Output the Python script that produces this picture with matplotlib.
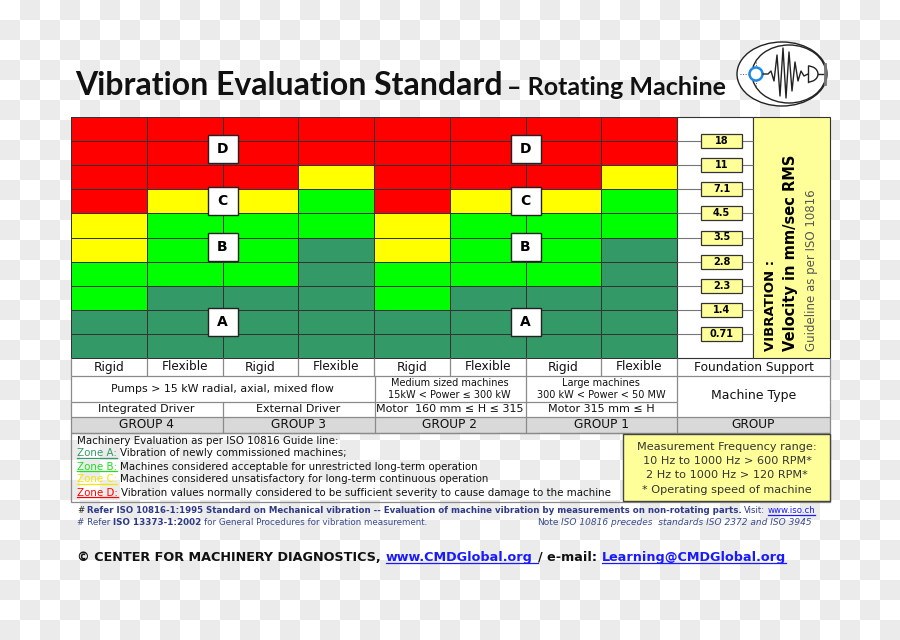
import numpy as np
import matplotlib.pyplot as plt
from matplotlib.colors import ListedColormap
from matplotlib.patches import Rectangle, Ellipse, Circle, Arc

# -----------------------------
# Dados da tabela
# -----------------------------
foundation = ['Rigid', 'Flexible'] * 4
groups = ['GROUP 4', 'GROUP 3', 'GROUP 2', 'GROUP 1']
drivers = ['Integrated Driver', 'External Driver',
           'Motor  160 mm ≤ H ≤ 315', 'Motor 315 mm ≤ H']
machine_types = ['Pumps > 15 kW radial, axial, mixed flow',
                 'Medium sized machines\n15kW < Power ≤ 300 kW',
                 'Large machines\n300 kW < Power < 50 MW']
velocity_limits = [18, 11, 7.1, 4.5, 3.5, 2.8, 2.3, 1.4, 0.71]
# limites de zona (mm/s RMS) por coluna
limit_ab = [1.4, 2.3, 2.3, 3.5, 1.4, 2.3, 2.3, 3.5]
limit_bc = [2.8, 4.5, 4.5, 7.1, 2.8, 4.5, 4.5, 7.1]
limit_cd = [4.5, 7.1, 7.1, 11, 4.5, 7.1, 7.1, 11]
zones = ['A', 'B', 'C', 'D']
zone_colors = ['#339966', '#00ff00', '#ffff00', '#ff0000']
zone_text = ['Vibration of newly commissioned machines;',
             'Machines considered acceptable for unrestricted long-term operation',
             'Machines considered unsatisfactory for long-term continuous operation',
             'Vibration values normally considered to be sufficient severity to cause damage to the machine']
zone_label_colors = ['#339966', '#22dd22', '#f5e600', '#ff0000']

BODY = 'DejaVu Sans'
plt.rcParams['font.family'] = [BODY]

fig = plt.figure(figsize=(9, 6.4), dpi=100)
ax = fig.add_axes([0, 0, 1, 1])
ax.set_xlim(0, 900)
ax.set_ylim(640, 0)
ax.axis('off')

# fundo quadriculado
chk = np.indices((32, 45)).sum(axis=0) % 2
ax.imshow(chk, cmap=ListedColormap(['white', '#ebebeb']), extent=(0, 900, 640, 0),
          interpolation='nearest', zorder=0, aspect='auto')

# -----------------------------
# Grade de zonas
# -----------------------------
col_x = np.linspace(71, 677, 9)
row_y = np.linspace(117, 358, 11)
band_low = velocity_limits + [0]
Z = np.array([[sum(b >= lim[c] for lim in (limit_ab, limit_bc, limit_cd))
               for c in range(8)] for b in band_low])
ax.pcolormesh(col_x, row_y, Z, cmap=ListedColormap(zone_colors), vmin=-0.5, vmax=3.5,
              edgecolors='#333333', linewidth=0.6, zorder=2)

# rótulos das zonas
label_pos = {'D': (1, -4), 'C': (3, 0), 'B': (5, -3), 'A': (8, 0)}
for cx in (col_x[2], col_x[6]):
    for z, (r, dy) in label_pos.items():
        yc = (row_y[r] + row_y[r + 1]) / 2 + dy
        ax.add_patch(Rectangle((cx - 15, yc - 14), 30, 28, fc='white', ec='#222222',
                               lw=1, zorder=4))
        ax.text(cx, yc, z, ha='center', va='center', fontsize=10, fontweight='bold',
                zorder=5)

# coluna de valores
ax.add_patch(Rectangle((677, 117), 76, 241, fc='white', ec='#333333', lw=0.8, zorder=2))
ax.add_patch(Rectangle((753, 117), 77, 241, fc='#ffff99', ec='#333333', lw=0.8, zorder=2))
ax.hlines(row_y[1:10], 677, 753, color='#777777', lw=0.8, zorder=3)
for v, y in zip(velocity_limits, row_y[1:10]):
    ax.add_patch(Rectangle((701, y - 7), 41, 14, fc='#ffff99', ec='#333333', lw=0.9,
                           zorder=4))
    ax.text(721.5, y, str(v), ha='center', va='center', fontsize=7, fontweight='bold',
            zorder=5)

ax.text(770, 351, 'VIBRATION :', rotation=90, ha='center', va='bottom', fontsize=9.5,
        fontweight='bold', zorder=5)
ax.text(791, 351, 'Velocity in mm/sec RMS', rotation=90, ha='center', va='bottom',
        fontsize=10.5, fontweight='bold', zorder=5)
ax.text(811, 351, 'Guideline as per ISO 10816', rotation=90, ha='center', va='bottom',
        fontsize=8.5, color='#555555', zorder=5)

# -----------------------------
# Linhas inferiores da tabela
# -----------------------------
ax.add_patch(Rectangle((71, 358), 759, 59, fc='white', ec='none', zorder=1))
for i in range(4):
    ax.add_patch(Rectangle((col_x[2 * i], 417), col_x[2] - col_x[0], 16,
                           fc='#d9d9d9', ec='none', zorder=1))
ax.add_patch(Rectangle((677, 417), 153, 16, fc='#d9d9d9', ec='none', zorder=1))

lc = '#8a8a8a'
ax.hlines([376, 417, 433], 71, 830, color=lc, lw=0.9, zorder=3)
ax.hlines(402, 71, 677, color=lc, lw=0.9, zorder=3)
ax.vlines(list(col_x) + [830], 358, 376, color=lc, lw=0.9, zorder=3)
ax.vlines([71, 375, 526, 677, 830], 376, 402, color=lc, lw=0.9, zorder=3)
ax.vlines([71, 223, 375, 526, 677, 830], 402, 433, color=lc, lw=0.9, zorder=3)

for i, f in enumerate(foundation):
    ax.text((col_x[i] + col_x[i + 1]) / 2, 367, f, ha='center', va='center',
            fontsize=8.7, color='#111111', zorder=5)
ax.text(753.5, 367, 'Foundation Support', ha='center', va='center', fontsize=8.7,
        color='#111111', zorder=5)

spans = [(0, 4), (4, 6), (6, 8)]
for (a, b), m in zip(spans, machine_types):
    ax.text((col_x[a] + col_x[b]) / 2, 389, m, ha='center', va='center',
            fontsize=7.9 if a == 0 else 7.0, color='#111111', linespacing=1.15, zorder=5)
ax.text(753.5, 396, 'Machine Type', ha='center', va='center', fontsize=9,
        color='#111111', zorder=5)

for i, d in enumerate(drivers):
    ax.text((col_x[2 * i] + col_x[2 * i + 2]) / 2, 409.5, d, ha='center', va='center',
            fontsize=8, color='#111111', zorder=5)
for i, g in enumerate(groups):
    ax.text((col_x[2 * i] + col_x[2 * i + 2]) / 2, 425, g, ha='center', va='center',
            fontsize=8.7, color='#111111', zorder=5)
ax.text(753.5, 425, 'GROUP', ha='center', va='center', fontsize=8.7,
        color='#111111', zorder=5)

# -----------------------------
# Texto em partes (cores / sublinhado)
# -----------------------------
renderer = fig.canvas.get_renderer()


def runs(x, y, parts, size, gap=3.0):
    for s, kw in parts:
        kw = dict(kw)
        ul = kw.pop('underline', 0)
        t = ax.text(x, y, s, fontsize=size, va='baseline', ha='left', zorder=6, **kw)
        w = t.get_window_extent(renderer=renderer).width
        if ul:
            ext = gap if ul == 2 else 0
            ax.plot([x, x + w + ext], [y + 1.8, y + 1.8], color=kw.get('color', 'k'),
                    lw=0.9, zorder=6)
        x += w + gap
    return x


# legenda
ax.add_patch(Rectangle((71, 433), 759, 69, fc='none', ec='#8a8a8a', lw=0.9, zorder=3))
runs(77, 443.5, [('Machinery Evaluation as per ISO 10816 Guide line:',
                  {'color': '#111111'})], 7.4)
for i, z in enumerate(zones):
    runs(77, 456.5 + 13 * i,
         [('Zone %s:' % z, {'color': zone_label_colors[i], 'underline': 1}),
          (zone_text[i], {'color': '#111111'})], 7.4)

# caixa de frequência
ax.add_patch(Rectangle((623, 434), 207, 67, fc='#ffff99', ec='#444444', lw=1, zorder=4))
freq_lines = ['Measurement Frequency range:', '10 Hz to 1000 Hz > 600 RPM*',
              '2 Hz to 1000 Hz > 120 RPM*', '* Operating speed of machine']
for i, s in enumerate(freq_lines):
    ax.text(727, 446.5 + 14.5 * i, s, ha='center', va='center', fontsize=8.1,
            color='#333333', zorder=5)

# rodapé
navy = '#2e3a87'
runs(77, 513, [('#', {'color': '#222222'}),
               ('Refer ISO 10816-1:1995 Standard on Mechanical vibration -- Evaluation of '
                'machine vibration by measurements on non-rotating parts.',
                {'color': navy, 'fontweight': 'bold'}),
               ('Visit:', {'color': navy}),
               ('www.iso.ch', {'color': '#1a1aff', 'underline': 1})], 6.2, gap=2.5)
runs(77, 525, [('# Refer', {'color': '#3b4c8c'}),
               ('ISO 13373-1:2002', {'color': navy, 'fontweight': 'bold'}),
               ('for General Procedures for vibration measurement.',
                {'color': '#3b4c8c'})], 6.3, gap=2.5)
runs(537, 525, [('Note', {'color': '#3b4c8c'}),
                ('ISO 10816 precedes  standards ISO 2372 and ISO 3945',
                 {'color': '#3b4c8c', 'style': 'italic'})], 6.5, gap=2.5)

runs(77, 561, [('© CENTER FOR MACHINERY DIAGNOSTICS,', {'color': '#111111',
                                                        'fontweight': 'bold'}),
               ('www.CMDGlobal.org', {'color': '#1a1aff', 'fontweight': 'bold',
                                      'underline': 2}),
               ('/ e-mail:', {'color': '#111111', 'fontweight': 'bold'}),
               ('Learning@CMDGlobal.org', {'color': '#1a1aff', 'fontweight': 'bold',
                                           'underline': 1})],
     9.2, gap=5)

# -----------------------------
# Título e logotipo
# -----------------------------
ax.text(75, 95, 'Vibration Evaluation Standard', fontsize=23, fontweight='bold',
        family=['Lato', 'DejaVu Sans'], va='baseline', color='#111111')
ax.text(507, 95, '– Rotating Machine', fontsize=18, fontweight='bold',
        family=['Lato', 'DejaVu Sans'], va='baseline', color='#111111')

ax.add_patch(Ellipse((782, 74), 90, 64, fc='white', ec='#222222', lw=1, zorder=3))
ax.add_patch(Ellipse((789, 74), 74, 58, fc='none', ec='#222222', lw=1, zorder=3))
ax.plot([740, 752], [74, 74], ls=':', color='#555555', lw=0.7, zorder=4)
ax.plot([756, 756], [62, 88], ls=':', color='#555555', lw=0.7, zorder=4)
ax.add_patch(Circle((756, 74), 6.5, fc='white', ec='#1e88e5', lw=1.8, zorder=5))
wave_x = [763, 768, 771, 774, 777, 780, 783, 786, 789, 792, 795, 798, 801, 804, 808]
wave_y = [74, 74, 71, 81, 55, 96, 48, 98, 52, 91, 62, 81, 71, 76, 74]
ax.plot(wave_x, wave_y, color='#222222', lw=1, zorder=5)
ax.add_patch(Arc((808, 74), 20, 16, theta1=-90, theta2=90, color='#222222', lw=1,
                 zorder=5))
ax.plot([808, 808], [66, 82], color='#222222', lw=1, zorder=5)
ax.plot([818, 825], [74, 74], color='#222222', lw=1, zorder=5)
ax.plot([825, 825], [64, 84], color='#777777', lw=2, zorder=5)

plt.savefig('out.png', dpi=100)
plt.close()
